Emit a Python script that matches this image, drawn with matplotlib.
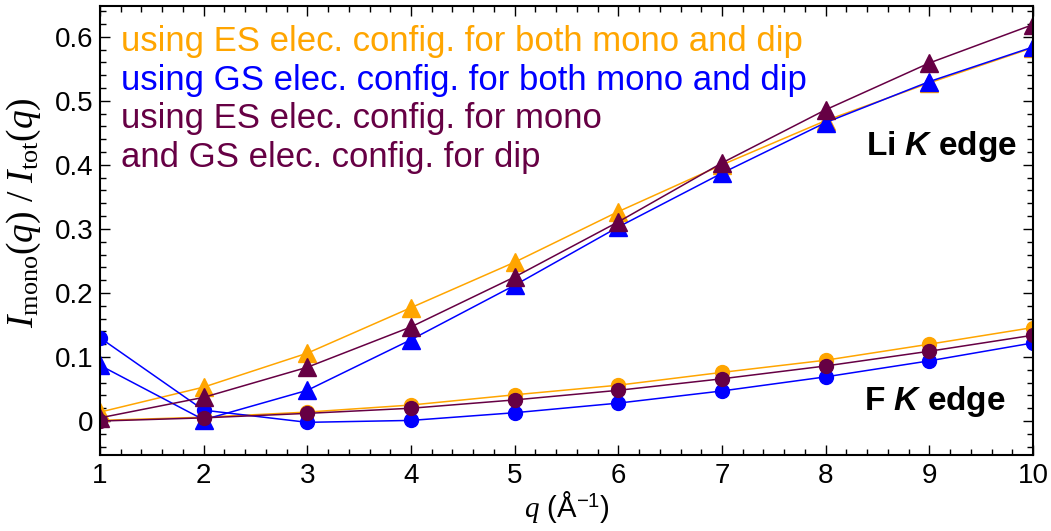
import numpy as np
import matplotlib.pyplot as plt
from matplotlib.ticker import MultipleLocator, FuncFormatter

# q values
q = [1, 2, 3, 4, 5, 6, 7, 8, 9, 10]

# Li K edge (triangles)
li_es = [0.014, 0.053, 0.106, 0.177, 0.248, 0.327, 0.400, 0.469, 0.528, 0.583]
li_gs = [0.087, 0.002, 0.048, 0.127, 0.212, 0.303, 0.387, 0.466, 0.530, 0.584]
li_mix = [0.005, 0.037, 0.084, 0.147, 0.225, 0.311, 0.403, 0.486, 0.559, 0.619]

# F K edge (circles)
f_es = [0.001, 0.006, 0.014, 0.025, 0.041, 0.056, 0.076, 0.095, 0.120, 0.146]
f_gs = [0.130, 0.017, -0.002, 0.001, 0.013, 0.028, 0.047, 0.069, 0.094, 0.122]
f_mix = [0.000, 0.005, 0.012, 0.020, 0.033, 0.048, 0.066, 0.086, 0.109, 0.134]

orange = '#FFA500'
blue = '#0000FF'
purple = '#660044'

plt.rcParams['font.family'] = ['Liberation Sans', 'DejaVu Sans']
plt.rcParams['mathtext.fontset'] = 'custom'
plt.rcParams['mathtext.rm'] = 'Liberation Serif'
plt.rcParams['mathtext.it'] = 'Liberation Serif:italic'
plt.rcParams['mathtext.bf'] = 'Liberation Sans:bold:italic'
plt.rcParams['mathtext.sf'] = 'Liberation Sans'

fig = plt.figure(figsize=(10.51, 5.31), dpi=100)
ax = fig.add_axes([100/1051, 1 - 455/531, 933/1051, 449/531])

for li, f, c in [(li_es, f_es, orange), (li_gs, f_gs, blue), (li_mix, f_mix, purple)]:
    ax.plot(q, li, '-^', color=c, lw=1.1, markersize=13)
    ax.plot(q, f, '-o', color=c, lw=1.1, markersize=10)

ax.set_xlim(1, 10)
ax.set_ylim(-0.053, 0.648)
ax.xaxis.set_major_locator(MultipleLocator(1))
ax.xaxis.set_minor_locator(MultipleLocator(0.2))
ax.yaxis.set_major_locator(MultipleLocator(0.1))
ax.yaxis.set_minor_locator(MultipleLocator(0.02))
ax.yaxis.set_major_formatter(FuncFormatter(lambda v, p: '0' if abs(v) < 1e-9 else f'{v:.1f}'))
ax.tick_params(which='both', direction='in', top=True, right=True, labelsize=20, width=1)
ax.tick_params(which='major', length=7)
ax.tick_params(which='minor', length=4)
ax.tick_params(axis='x', pad=6)
ax.tick_params(axis='y', pad=5)
for s in ax.spines.values():
    s.set_linewidth(1.5)

ax.set_xlabel(r'$q$ (Å$^{\mathsf{-1}}$)', fontsize=21, labelpad=0)
ax.set_ylabel(r'$I_{\rm mono}(q)\ /\ I_{\rm tot}(q)$', fontsize=27)
ax.yaxis.set_label_coords(-0.061, 0.54)

lines = [('using ES elec. config. for both mono and dip', orange, 51),
         ('using GS elec. config. for both mono and dip', blue, 90),
         ('using ES elec. config. for mono', purple, 128),
         ('and GS elec. config. for dip', purple, 167)]
for txt, c, y in lines:
    fig.text(121/1051, 1 - y/531, txt, color=c, fontsize=25, va='baseline', ha='left')

fig.text(1017/1051, 1 - 155/531, r'Li $\mathbf{K}$ edge', fontsize=24, fontweight='bold',
         ha='right', va='baseline')
fig.text(1006/1051, 1 - 410/531, r'F $\mathbf{K}$ edge', fontsize=24, fontweight='bold',
         ha='right', va='baseline')

fig.savefig('out.png', dpi=100)
